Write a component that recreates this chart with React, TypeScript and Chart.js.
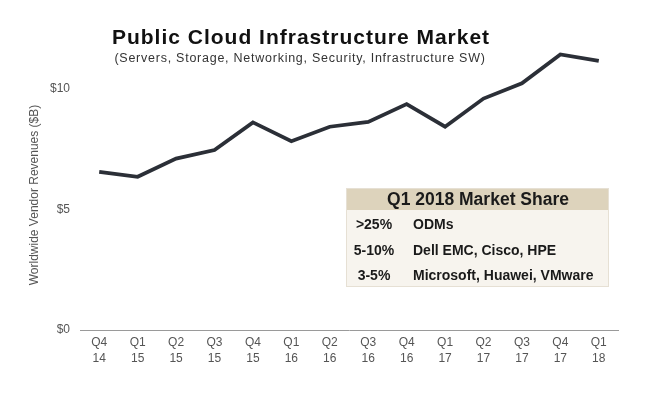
import React, { useEffect, useRef } from 'react';
import { Chart, registerables } from 'chart.js';

Chart.register(...registerables);

const categories: string[][] = [
  ['Q4', '14'], ['Q1', '15'], ['Q2', '15'], ['Q3', '15'], ['Q4', '15'],
  ['Q1', '16'], ['Q2', '16'], ['Q3', '16'], ['Q4', '16'],
  ['Q1', '17'], ['Q2', '17'], ['Q3', '17'], ['Q4', '17'], ['Q1', '18'],
];
const revenue: number[] = [6.57, 6.36, 7.12, 7.47, 8.62, 7.84, 8.44, 8.64, 9.38, 8.44, 9.61, 10.24, 11.44, 11.17];
const yTickValues: number[] = [0, 5, 10];
const titleText = 'Public Cloud Infrastructure Market';
const subtitleText = '(Servers, Storage, Networking, Security, Infrastructure SW)';
const yAxisTitle = 'Worldwide Vendor Revenues ($B)';
const shareTitle = 'Q1 2018 Market Share';
const shareRanges: string[] = ['>25%', '5-10%', '3-5%'];
const shareVendors: string[] = ['ODMs', 'Dell EMC, Cisco, HPE', 'Microsoft, Huawei, VMware'];

const FONT = '"Liberation Sans", Arial, sans-serif';

const overlayPlugin = {
  id: 'overlay',
  afterDraw(chart: any) {
    const ctx = chart.ctx as any;
    ctx.save();
    // Title
    ctx.fillStyle = '#111111';
    ctx.textAlign = 'center';
    ctx.textBaseline = 'middle';
    ctx.font = `bold 21px ${FONT}`;
    ctx.letterSpacing = '1px';
    ctx.fillText(titleText, 301, 38);
    ctx.fillStyle = '#333333';
    ctx.font = `12.5px ${FONT}`;
    ctx.letterSpacing = '0.75px';
    ctx.fillText(subtitleText, 300, 59);
    ctx.letterSpacing = '0px';

    // Y axis title
    ctx.save();
    ctx.translate(35, 195);
    ctx.rotate(-Math.PI / 2);
    ctx.fillStyle = '#555555';
    ctx.font = `12px ${FONT}`;
    ctx.fillText(yAxisTitle, 0, 0);
    ctx.restore();

    // Market share table
    const bx = 346, by = 188, bw = 263, bh = 99, hh = 22;
    ctx.fillStyle = '#f7f4ee';
    ctx.fillRect(bx, by, bw, bh);
    ctx.fillStyle = '#ddd3bc';
    ctx.fillRect(bx, by, bw, hh);
    ctx.strokeStyle = '#e6e0d4';
    ctx.lineWidth = 1;
    ctx.strokeRect(bx + 0.5, by + 0.5, bw - 1, bh - 1);
    ctx.fillStyle = '#1a1a1a';
    ctx.font = `bold 17.5px ${FONT}`;
    ctx.textAlign = 'center';
    ctx.fillText(shareTitle, 478, by + hh / 2 + 1);
    ctx.font = `bold 14px ${FONT}`;
    const rowY = [225, 251, 276.5];
    shareRanges.forEach((r, i) => {
      ctx.textAlign = 'center';
      ctx.fillText(r, 374, rowY[i]);
      ctx.textAlign = 'left';
      ctx.fillText(shareVendors[i], 413, rowY[i]);
    });
    ctx.restore();
  },
};

export default function App() {
  const canvasRef = useRef<HTMLCanvasElement | null>(null);

  useEffect(() => {
    if (!canvasRef.current) return;
    const chart = new Chart(canvasRef.current, {
      type: 'line',
      data: {
        labels: categories,
        datasets: [
          {
            data: revenue,
            borderColor: '#2b2f37',
            borderWidth: 3.8,
            pointRadius: 0,
            tension: 0,
            fill: false,
          },
        ],
      },
      options: {
        animation: false,
        responsive: true,
        maintainAspectRatio: false,
        layout: { padding: { top: 41, right: 34, left: 0, bottom: 0 } },
        plugins: {
          legend: { display: false },
          tooltip: { enabled: false },
          title: { display: false },
        },
        scales: {
          x: {
            offset: true,
            grid: { display: false, drawTicks: false },
            border: { display: true, color: '#9a9a9a', width: 1 },
            ticks: {
              color: '#555555',
              font: { family: FONT, size: 12, lineHeight: 1.33 },
              padding: 5,
              maxRotation: 0,
              autoSkip: false,
            },
            afterFit: (s: any) => {
              s.height = 74;
            },
          },
          y: {
            min: 0,
            max: 12,
            grid: { display: false, drawTicks: false },
            border: { display: false },
            ticks: {
              color: '#555555',
              font: { family: FONT, size: 12 },
              padding: 10,
              callback: (v: any) => '$' + v,
            },
            afterBuildTicks: (s: any) => {
              s.ticks = yTickValues.map((v) => ({ value: v }));
            },
            afterFit: (s: any) => {
              s.width = 80;
            },
          },
        },
      },
      plugins: [overlayPlugin],
    });
    return () => chart.destroy();
  }, []);

  return (
    <div style={{ position: 'fixed', left: 0, top: 0, width: 652, height: 404, background: '#ffffff' }}>
      <canvas ref={canvasRef} />
    </div>
  );
}
